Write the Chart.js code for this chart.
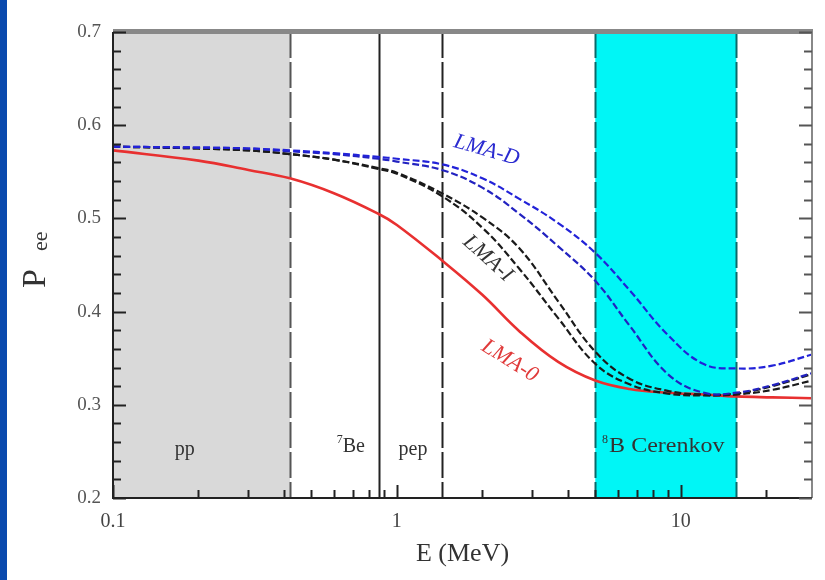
<!DOCTYPE html>
<html>
<head>
<meta charset="utf-8">
<script src="https://cdn.jsdelivr.net/npm/chart.js@4"></script>
<style>
  body { margin: 0; background: #fff; }
  canvas { display: block; }
</style>
</head>
<body>
<canvas id="pee" width="825" height="580"></canvas>
<script>
// neutrino energy (MeV)
var energy = [0.1, 0.2, 0.3, 0.42, 0.6, 0.86, 1.0, 1.44, 2, 2.7, 3.7, 5, 6.6, 9, 12, 15.7, 21, 29];

// survival probability curves
var lmaD1 = [0.577, 0.576, 0.575, 0.573, 0.570, 0.566, 0.564, 0.558, 0.543, 0.521, 0.495, 0.463, 0.423, 0.375, 0.344, 0.339, 0.342, 0.354];
var lmaD2 = [0.577, 0.576, 0.575, 0.572, 0.569, 0.564, 0.561, 0.552, 0.533, 0.505, 0.470, 0.433, 0.385, 0.333, 0.313, 0.313, 0.321, 0.334];
var lmaI1 = [0.577, 0.575, 0.573, 0.569, 0.563, 0.554, 0.549, 0.527, 0.501, 0.468, 0.411, 0.357, 0.328, 0.315, 0.311, 0.312, 0.320, 0.333];
var lmaI2 = [0.577, 0.575, 0.573, 0.569, 0.563, 0.553, 0.548, 0.524, 0.490, 0.446, 0.393, 0.344, 0.322, 0.312, 0.310, 0.311, 0.316, 0.326];
var lma0  = [0.573, 0.562, 0.552, 0.543, 0.527, 0.505, 0.493, 0.455, 0.418, 0.379, 0.346, 0.326, 0.317, 0.313, 0.311, 0.309, 0.308, 0.307];

// shaded energy windows and line energies
var ppEnd = 0.42, be7 = 0.862, pep = 1.44;
var b8Window = [5, 15.7];

var yTicks = [0.2, 0.3, 0.4, 0.5, 0.6, 0.7];
var xTicks = [0.1, 1, 10];

function pts(ys) {
  return energy.map(function (e, i) { return { x: e, y: ys[i] }; });
}

var serif = '"Liberation Serif", "DejaVu Serif", serif';

var decor = {
  id: "decor",
  beforeDraw: function (chart) {
    var c = chart.ctx;
    c.save();
    c.fillStyle = "#fff";
    c.fillRect(0, 0, chart.width, chart.height);
    c.fillStyle = "#0a4aae";
    c.fillRect(0, 0, 7, chart.height);
    c.restore();
  },
  beforeDatasetsDraw: function (chart) {
    var c = chart.ctx, a = chart.chartArea;
    var x = chart.scales.x, y = chart.scales.y;
    c.save();
    // pp window
    c.fillStyle = "#d9d9d9";
    c.fillRect(a.left, a.top, x.getPixelForValue(ppEnd) - a.left, a.bottom - a.top);
    // 8B window
    var b0 = x.getPixelForValue(b8Window[0]), b1 = x.getPixelForValue(b8Window[1]);
    c.fillStyle = "#00f6f6";
    c.fillRect(b0, a.top, b1 - b0, a.bottom - a.top);

    function vline(v, color, dash) {
      var px = Math.round(x.getPixelForValue(v)) + 0.5;
      c.strokeStyle = color;
      c.lineWidth = 2;
      c.setLineDash(dash);
      c.beginPath();
      c.moveTo(px, a.top);
      c.lineTo(px, a.bottom);
      c.stroke();
    }
    vline(ppEnd, "#555", [26, 4]);
    vline(be7, "#222", []);
    vline(pep, "#222", [26, 4]);
    vline(b8Window[0], "#0a6a6a", [26, 4]);
    vline(b8Window[1], "#0a6a6a", [26, 4]);
    c.setLineDash([]);

    // region names
    c.fillStyle = "#333";
    c.textAlign = "center";
    c.textBaseline = "middle";
    c.font = "20px " + serif;
    var ly = y.getPixelForValue(0.252);
    c.fillText("pp", x.getPixelForValue(0.179), ly);
    c.fillText("pep", x.getPixelForValue(1.14), ly);
    c.textAlign = "left";
    var bx = x.getPixelForValue(0.66);
    c.font = "12px " + serif;
    c.fillText("7", bx - 9, ly - 10);
    c.font = "20px " + serif;
    c.fillText("Be", bx - 3, ly - 3);
    var cx = x.getPixelForValue(5.2);
    c.font = "12px " + serif;
    c.fillText("8", cx + 2, ly - 10);
    c.font = "20px " + serif;
    c.save();
    c.translate(cx + 9, ly - 3);
    c.scale(1.2, 1);
    c.fillText("B Cerenkov", 0, 0);
    c.restore();
    c.restore();
  },
  afterDatasetsDraw: function (chart) {
    var c = chart.ctx, a = chart.chartArea;
    var x = chart.scales.x, y = chart.scales.y;
    c.save();

    // curve labels
    function label(txt, e, p, ang, color) {
      c.save();
      c.translate(x.getPixelForValue(e), y.getPixelForValue(p));
      c.rotate(ang * Math.PI / 180);
      c.fillStyle = color;
      c.font = "italic 22px " + serif;
      c.textAlign = "center";
      c.textBaseline = "middle";
      c.fillText(txt, 0, 0);
      c.restore();
    }
    label("LMA-D", 2.07, 0.573, 16, "#2b2bd0");
    label("LMA-I", 2.09, 0.457, 42, "#333");
    label("LMA-0", 2.5, 0.347, 32, "#e03a3a");

    // frame
    c.lineWidth = 2;
    c.strokeStyle = "#888";
    c.fillStyle = "#888";
    c.fillRect(a.left, a.top - 3, a.right - a.left + 1, 5);
    c.beginPath();
    c.moveTo(a.right, a.top);
    c.lineTo(a.right, a.bottom);
    c.stroke();
    c.strokeStyle = "#222";
    c.beginPath();
    c.moveTo(a.left, a.top);
    c.lineTo(a.left, a.bottom);
    c.lineTo(a.right, a.bottom);
    c.stroke();

    // y ticks, inward on both sides
    c.lineWidth = 2;
    for (var v = 0.2; v <= 0.7001; v += 0.02) {
      var py = Math.round(y.getPixelForValue(v)) + 0.5;
      var major = Math.abs(v * 10 - Math.round(v * 10)) < 1e-6;
      var len = major ? 13 : 8;
      c.strokeStyle = "#222";
      c.beginPath();
      c.moveTo(a.left, py);
      c.lineTo(a.left + len, py);
      c.stroke();
      c.strokeStyle = "#555";
      c.beginPath();
      c.moveTo(a.right, py);
      c.lineTo(a.right - len, py);
      c.stroke();
    }
    // x ticks (log), inward
    c.strokeStyle = "#222";
    for (var d = 0.1; d < 30; d *= 10) {
      for (var k = 1; k <= 9; k++) {
        var e = d * k;
        if (e > x.max + 1e-9) break;
        var px = Math.round(x.getPixelForValue(e)) + 0.5;
        var l = k === 1 ? 13 : 8;
        c.beginPath();
        c.moveTo(px, a.bottom);
        c.lineTo(px, a.bottom - l);
        c.stroke();
      }
    }

    // y axis title P_ee
    c.translate(45, 288);
    c.rotate(-Math.PI / 2);
    c.fillStyle = "#333";
    c.textBaseline = "alphabetic";
    c.textAlign = "left";
    c.font = "34px " + serif;
    c.fillText("P", 0, 0);
    c.font = "22px " + serif;
    c.fillText("ee", 37, 2);
    c.restore();
  }
};

function curve(data, color, dash, width) {
  return {
    data: pts(data),
    borderColor: color,
    borderWidth: width,
    borderDash: dash,
    pointRadius: 0,
    fill: false,
    tension: 0.4
  };
}

new Chart(document.getElementById("pee"), {
  type: "line",
  data: {
    datasets: [
      curve(lmaD1, "#2222d8", [7, 3], 2.2),
      curve(lmaD2, "#2222c0", [7, 3], 2.2),
      curve(lmaI1, "#1a1a1a", [7, 3], 2.2),
      curve(lmaI2, "#1a1a1a", [7, 3], 2.2),
      curve(lma0, "#e83030", [], 2.6)
    ]
  },
  options: {
    responsive: false,
    animation: false,
    layout: { padding: { left: 0, top: 32, right: 13, bottom: 0 } },
    plugins: { legend: { display: false }, tooltip: { enabled: false } },
    scales: {
      x: {
        type: "logarithmic",
        min: 0.1,
        max: 29,
        grid: { display: false, drawTicks: false },
        border: { display: false },
        afterFit: function (s) { s.height = 82; },
        afterBuildTicks: function (s) {
          s.ticks = xTicks.map(function (v) { return { value: v }; });
        },
        ticks: {
          autoSkip: false,
          maxRotation: 0,
          padding: 12,
          color: "#444",
          font: { family: serif, size: 20 },
          callback: function (v) { return String(v); }
        },
        title: {
          display: true,
          text: "E (MeV)",
          color: "#333",
          font: { family: serif, size: 26 },
          padding: { top: 0, bottom: 10 }
        }
      },
      y: {
        min: 0.2,
        max: 0.7,
        grid: { display: false, drawTicks: false },
        border: { display: false },
        afterFit: function (s) { s.width = 113; },
        afterBuildTicks: function (s) {
          s.ticks = yTicks.map(function (v) { return { value: v }; });
        },
        ticks: {
          padding: 12,
          color: "#555",
          font: { family: serif, size: 19 },
          callback: function (v) { return v.toFixed(1); }
        }
      }
    }
  },
  plugins: [decor]
});
</script>
</body>
</html>
